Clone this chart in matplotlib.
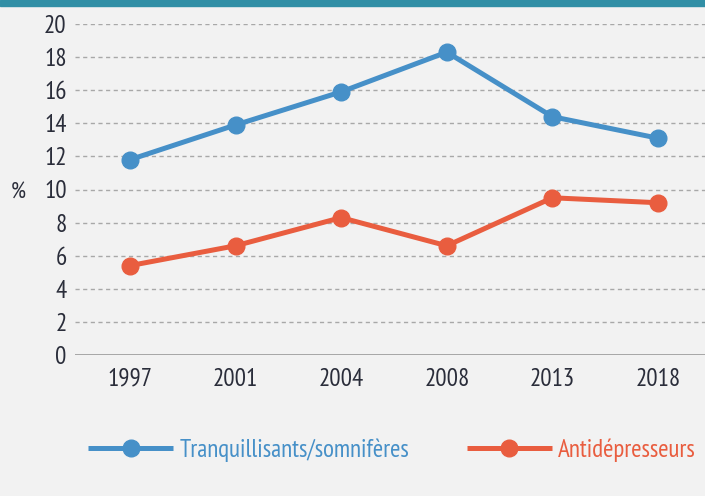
import matplotlib
matplotlib.use("Agg")
import matplotlib.pyplot as plt
from matplotlib.patches import Rectangle

years = ["1997", "2001", "2004", "2008", "2013", "2018"]
tranquillisants = [11.8, 13.9, 15.9, 18.3, 14.4, 13.1]
antidepresseurs = [5.4, 6.6, 8.3, 6.6, 9.5, 9.2]
yticks = [0, 2, 4, 6, 8, 10, 12, 14, 16, 18, 20]

BLUE = "#4690c8"
RED = "#e95d3f"
BG = "#f2f2f2"
TXT = "#2a2d3a"
FONT = ["PT Sans Narrow", "DejaVu Sans"]

plt.rcParams["font.family"] = FONT

fig = plt.figure(figsize=(7.05, 4.96), dpi=100, facecolor=BG)
ax = fig.add_axes([75/705, 1-355/496, 1-75/705, (355-24)/496])
ax.set_facecolor(BG)

# top band
fig.patches.append(Rectangle((0, 1-6/496), 1, 6/496, transform=fig.transFigure,
                             color="#318fa6", zorder=0))

x = list(range(len(years)))
l1, = ax.plot(x, tranquillisants, color=BLUE, lw=3.6, marker="o", ms=12,
              solid_capstyle="butt", label="Tranquillisants/somnifères", zorder=3, clip_on=False)
l2, = ax.plot(x, antidepresseurs, color=RED, lw=3.6, marker="o", ms=12,
              solid_capstyle="butt", label="Antidépresseurs", zorder=3, clip_on=False)

ax.set_ylim(0, 20)
ax.set_xlim(-0.52, 5.445)
ax.set_yticks(yticks)
ax.set_yticklabels([str(v) for v in yticks])
ax.set_xticks(x)
ax.set_xticklabels(years)
for v in yticks[1:]:
    ax.axhline(v, color="#a8a8a8", lw=1.0, ls=(0, (3, 2.5)), zorder=1)
ax.axhline(0, color="#a0a0a0", lw=2.0, zorder=2)

for s in ax.spines.values():
    s.set_visible(False)
ax.tick_params(axis="both", length=0, labelsize=18, colors=TXT)
ax.tick_params(axis="y", pad=6)
ax.tick_params(axis="x", pad=9)

fig.text(18/705, 1-193/496, "%", fontsize=17, color=TXT, ha="center", va="center")

leg = fig.legend(handles=[l1, l2], loc="center left", bbox_to_anchor=(88/705, 1-450/496),
                 ncol=2, frameon=False, fontsize=18, handlelength=3.4, handletextpad=0.25,
                 columnspacing=2.3, borderpad=0, borderaxespad=0, labelcolor="linecolor")

fig.savefig("out.png", dpi=100, facecolor=BG)
